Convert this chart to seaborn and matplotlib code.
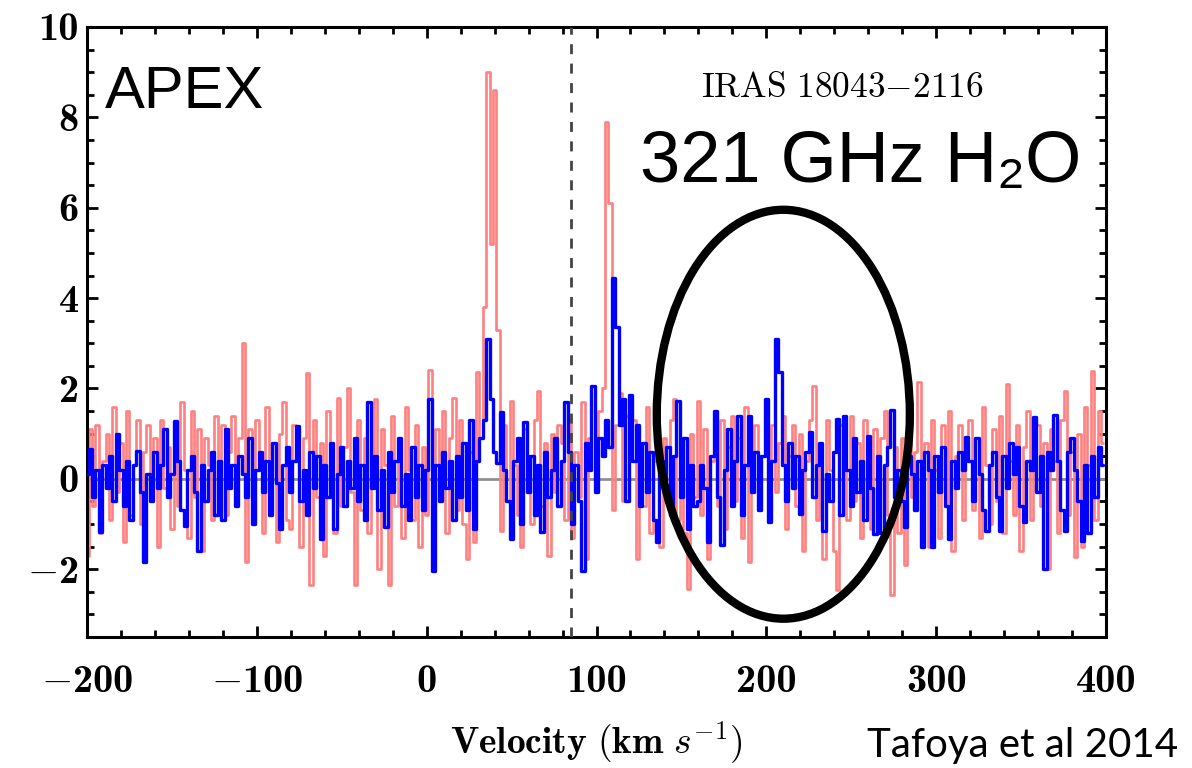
import numpy as np
import matplotlib
matplotlib.use("Agg")
import matplotlib.pyplot as plt
import seaborn as sns
from matplotlib.patches import Ellipse
from matplotlib.ticker import FuncFormatter, MultipleLocator

# ---------------- data ----------------
# channel velocities: -200 ... 398 km/s in 2 km/s steps
velocity = np.arange(-200, 400, 2)

red_spec = [
    -1.7, 1.1, -0.6, 1.2, -1.2, 0.4, 1.0, -0.9, 1.6, -0.3, 0.8, -1.4, 1.5, -0.8, 0.3, 1.3, -1.0, 0.6, 1.2, -0.5,
    0.9, -1.5, 1.3, -0.2, 0.7, -1.1, 1.2, -0.6, 1.7, 0.2, -1.3, 1.5, -0.4, 1.1, -1.6, 0.9, 0.3, -0.9, 1.4, -0.7,
    1.2, -0.8, 0.6, 1.4, -0.3, 0.9, 3.0, -1.85, 1.1, -0.6, 1.3, 0.2, -1.2, 1.6, -0.5, 0.8, -1.4, 1.0, 1.7, -0.9,
    -1.1, 1.2, 0.4, -1.5, 0.9, 2.35, -2.35, 1.3, -0.4, 0.8, -1.7, 1.5, 0.1, -1.2, 1.8, -0.6, 0.7, 2.0, -0.3, -2.35,
    1.3, -0.7, 0.9, -1.2, 0.5, 1.77, -2.0, 1.1, 0.3, -2.35, 1.4, -0.6, 0.8, -1.3, 1.6, 0.2, -0.9, 1.2, -1.5, 0.7,
    -0.8, 2.4, -1.9, 1.1, -0.4, 1.5, -1.2, 0.9, 1.8, -0.7, 1.3, -1.0, -1.77, 0.6, -1.4, 2.36, 0.9, 3.8, 9.0, 5.2,
    8.6, 3.3, -1.15, 1.2, -0.5, 1.72, 0.3, -0.8, -1.5, 1.1, 0.4, -1.0, 1.3, 1.94, -0.6, 0.8, -1.7, 1.0, -0.3, 1.2,
    0.8, -0.9, 1.3, -1.3, 0.6, -0.4, 1.7, -1.77, 0.9, 2.05, -0.2, 1.5, 2.0, 7.9, 6.1, -0.7, 1.2, 1.9, -0.5, 1.4,
    0.6, 1.3, -1.77, 0.8, -0.6, 1.6, -1.2, 0.4, 1.1, -1.5, 0.9, -0.3, 1.3, 1.77, -0.9, 0.5, -1.2, -2.43, 1.0, -0.4,
    1.72, -0.8, 1.1, -1.77, 0.4, 1.0, -0.6, 1.3, -1.1, 0.7, 1.4, -0.5, 0.9, -1.3, 1.6, -1.84, 0.3, 1.2, -0.7, 0.5,
    0.9, -0.8, 1.2, -0.3, 0.8, 1.4, -1.1, 0.5, 1.2, -0.6, 1.0, -1.6, 0.4, 1.3, 2.05, -0.9, 0.7, -1.77, 1.3, 0.2,
    -1.6, -2.47, 1.2, 0.3, -0.9, 1.4, -0.5, 0.8, -1.3, 1.3, 0.1, -1.1, 1.1, -0.4, 0.9, 1.5, -0.8, -2.58, 0.7, -1.2,
    0.9, -1.9, 1.2, -0.4, 0.6, 2.14, -1.0, 0.8, -1.5, 1.3, 0.2, -1.3, 1.2, -0.6, 1.5, -1.6, 0.5, 1.2, -0.9, 0.7,
    1.3, -0.7, 0.9, -1.3, 1.6, 0.3, -1.0, 1.1, -0.5, 1.4, -1.2, 2.1, 0.4, -0.8, 1.2, -1.6, 0.7, 1.5, -0.9, 0.6,
    1.2, -0.6, 0.8, -2.0, 1.1, 0.4, -1.2, 1.3, 1.94, -0.8, 0.6, -1.72, 1.0, -1.5, 1.6, 0.3, 2.38, -0.9, 1.5, 0.8,
]

blue_spec = [
    0.1, 0.66, -0.4, 0.2, -1.17, 0.3, -0.2, 0.5, -0.5, 1.0, 0.2, -0.6, 0.4, -0.9, 0.3, 0.62, -0.3, -1.84, 0.1, -0.5,
    0.6, -0.2, 0.3, 1.1, -0.4, 0.1, 1.28, 0.4, -0.7, -1.04, 0.2, 0.5, -0.3, -1.6, 0.3, -0.5, 0.2, 0.6, -0.8, 0.4,
    -0.9, 1.1, -0.2, 0.3, -0.6, 0.5, 0.1, -0.4, 0.9, -1.0, 0.2, 0.6, -0.3, 0.4, -0.8, 0.8, -0.1, -1.1, 0.3, 0.7,
    -0.3, 0.4, 1.17, -0.5, 0.2, -0.8, 0.6, -0.2, 0.5, -1.33, 0.3, -0.4, 0.8, -1.1, 0.1, 0.7, -0.6, 0.4, -0.2, 0.9,
    -0.5, 0.3, -0.9, 1.7, -0.2, 0.5, -0.7, 0.2, -1.06, 0.6, -0.3, 0.4, 0.9, -0.6, 0.1, -0.9, 0.7, -0.4, 0.3, -0.7,
    0.2, 1.77, -2.03, 0.3, -0.5, 0.6, -0.2, 0.4, -0.9, 0.5, -0.4, 0.8, -0.7, 1.3, -1.1, 0.4, 0.9, 1.3, 3.1, 1.77,
    0.6, 0.35, 1.48, 0.2, -0.5, -1.33, 0.4, 0.9, -1.0, 1.26, -0.3, 0.5, -0.8, 0.3, -1.17, 0.6, -0.4, 0.2, 0.9, -0.6,
    0.4, 1.7, 0.6, -1.0, 0.3, -0.5, -2.05, 0.8, 0.2, 2.05, -0.3, 0.9, 0.5, 1.3, 0.7, 4.45, 3.35, 1.2, 1.77, -0.5,
    1.85, 0.4, 1.2, -0.6, 0.8, -0.3, 0.6, -0.9, -1.4, 0.4, -0.2, 0.7, -0.8, 0.5, 1.72, -0.4, 0.9, -1.1, 0.3, -0.6,
    -0.5, 0.3, -0.2, -1.4, 0.5, 1.5, -0.4, -1.47, 0.2, 1.1, -0.6, 0.4, 1.4, -0.8, 0.3, 1.4, -0.3, 0.6, -0.7, 0.5,
    1.77, -0.96, 0.4, 3.09, 2.36, 0.3, -0.5, 0.8, -0.2, 0.5, -0.77, 0.2, 0.6, 1.04, -0.4, 0.3, 0.8, -1.15, 0.1, -0.5,
    0.6, 1.32, -0.8, 1.39, 0.2, -0.6, 0.9, -0.3, 0.4, -0.9, 0.95, -0.2, -1.21, 0.5, -1.2, 0.3, 0.7, 1.52, -0.4, 0.2,
    -0.5, -1.06, 0.5, 0.1, -0.7, 0.4, -1.5, 0.6, 0.2, -1.5, 0.5, -0.3, 0.7, -0.6, -1.33, 0.4, -0.2, 0.6, 0.2, 0.93,
    0.4, -0.5, 0.9, 0.1, -0.7, -1.15, 0.3, 0.6, -0.4, -1.15, 0.5, -0.2, 0.8, 0.1, 0.7, -0.6, -0.96, 0.4, 0.2, 1.37,
    -0.3, 0.5, -1.99, 0.6, 0.2, 1.41, 0.4, -0.7, -1.15, 0.6, 0.9, 0.2, -0.5, -1.37, 0.3, -1.2, 0.5, -0.4, 0.7, 0.3,
]

x_ticks = [-200, -100, 0, 100, 200, 300, 400]
y_ticks = [-2, 0, 2, 4, 6, 8, 10]
systemic_velocity = 85
circle_center = (210, 1.43)
circle_size = (149, 9.05)

# ---------------- figure ----------------
sns.set_style("ticks")
plt.rcParams.update({
    "mathtext.fontset": "cm",
    "font.family": ["Liberation Sans", "DejaVu Sans"],
    "text.color": "black",
    "axes.labelcolor": "black",
    "axes.edgecolor": "black",
    "xtick.color": "black",
    "ytick.color": "black",
    "axes.unicode_minus": True,
})

fig = plt.figure(figsize=(11.92, 7.68), dpi=100)
ax = fig.add_axes([87 / 1192, 1 - 637 / 768, (1106 - 87) / 1192, (637 - 27) / 768])

ax.axhline(0, color="#909090", lw=2.0, zorder=1)
sns.lineplot(x=velocity, y=red_spec, ax=ax, color="#ff8080", lw=1.9,
             drawstyle="steps-mid", estimator=None, zorder=2)
sns.lineplot(x=velocity, y=blue_spec, ax=ax, color="#0000ff", lw=2.4,
             drawstyle="steps-mid", estimator=None, zorder=3)
ax.axvline(systemic_velocity, color="#444444", lw=2.0, dashes=(3.6, 3.4), zorder=4)

ax.add_patch(Ellipse(circle_center, circle_size[0], circle_size[1], fill=False,
                     edgecolor="black", lw=6, zorder=5))

ax.set_xlim(-200, 400)
ax.set_ylim(-3.5, 10)
ax.set_xticks(x_ticks)
ax.set_yticks(y_ticks)
ax.xaxis.set_minor_locator(MultipleLocator(20))
ax.yaxis.set_minor_locator(MultipleLocator(0.5))


def tick_fmt(v, pos):
    v = int(round(v))
    return ("$-$" if v < 0 else "") + str(abs(v))


ax.xaxis.set_major_formatter(FuncFormatter(tick_fmt))
ax.yaxis.set_major_formatter(FuncFormatter(tick_fmt))
ax.tick_params(which="both", direction="in", top=True, right=True, width=2.0)
ax.tick_params(which="major", length=8)
ax.tick_params(which="minor", length=5)
ax.tick_params(axis="x", which="major", labelsize=29, pad=20)
ax.tick_params(axis="y", which="major", labelsize=29, pad=6)
for lab in ax.get_xticklabels() + ax.get_yticklabels():
    lab.set_family(["cmb10", "DejaVu Serif"])
for s in ax.spines.values():
    s.set_linewidth(2.2)
    s.set_visible(True)

ax.set_xlabel(r"$\mathbf{Velocity\ (km}\ s^{-1}\mathbf{)}$", fontsize=27, labelpad=14)
ax.set_ylabel("")

ax.text(0.018, 0.867, "APEX", transform=ax.transAxes, fontsize=43,
        family=["Liberation Sans", "DejaVu Sans"], va="baseline", ha="left")
ax.text(245, 8.45, r"$\mathrm{IRAS\ 18043{-}2116}$", fontsize=25.5, ha="center", va="baseline")
ax.text(640 / 1192, 1 - 182 / 768, "321 GHz H₂O", transform=fig.transFigure, fontsize=52,
        family=["Liberation Sans", "DejaVu Sans"], va="baseline", ha="left")
fig.text(1178 / 1192, 1 - 757 / 768, "Tafoya et al 2014", fontsize=29, ha="right", va="baseline",
         family=["Lato", "DejaVu Sans"], color="black")

fig.savefig("out.png", dpi=100)
